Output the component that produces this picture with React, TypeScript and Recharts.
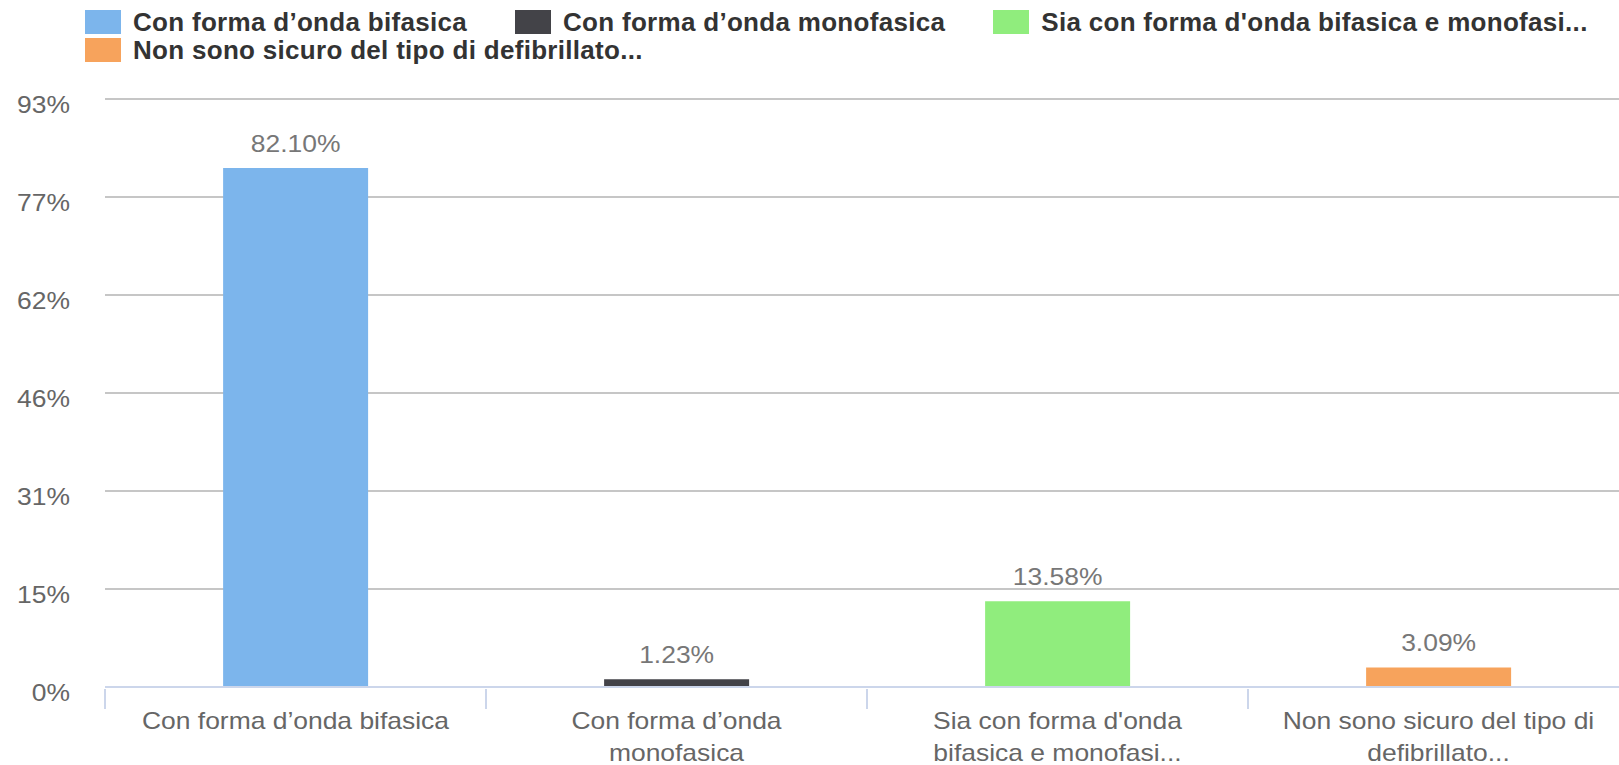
import React from "react";
import { BarChart, Bar, XAxis, YAxis, CartesianGrid, Cell, LabelList } from "recharts";

const categories = [
  "Con forma d’onda bifasica",
  "Con forma d’onda monofasica",
  "Sia con forma d'onda bifasica e monofasi...",
  "Non sono sicuro del tipo di defibrillato...",
];
const tickLines = [
  ["Con forma d’onda bifasica"],
  ["Con forma d’onda", "monofasica"],
  ["Sia con forma d'onda", "bifasica e monofasi..."],
  ["Non sono sicuro del tipo di", "defibrillato..."],
];
const values = [82.1, 1.23, 13.58, 3.09];
const colors = ["#7cb5ec", "#434348", "#90ed7d", "#f7a35c"];
const yTicks = [0, 15.5, 31, 46.5, 62, 77.5, 93];

const FONT = '"Liberation Sans", Arial, sans-serif';
const SX = 1.15;
const CHART_W = 1640;
const CHART_H = 765;
const MARGIN = { top: 99, right: 11, bottom: 0, left: 0 };
const Y_W = 105;
const BAND = (CHART_W - Y_W - MARGIN.right) / categories.length;

const data = categories.map((name, i) => ({ name, value: values[i] }));

function XTick(props: any) {
  const { x, y, payload, index } = props;
  const lines = tickLines[index] ?? [payload.value];
  return (
    <g>
      <line x1={x - BAND / 2} x2={x - BAND / 2} y1={y} y2={y + 20} stroke="#ccd6eb" strokeWidth={2} />
      {lines.map((l: string, i: number) => (
        <text
          key={i}
          transform={`translate(${x},${y + 40 + i * 32}) scale(${SX},1)`}
          textAnchor="middle"
          fontFamily={FONT}
          fontSize={23}
          fill="#666666"
        >
          {l}
        </text>
      ))}
    </g>
  );
}

function YTick(props: any) {
  const { x, y, payload } = props;
  return (
    <text
      transform={`translate(${x},${y + 14}) scale(${SX},1)`}
      textAnchor="end"
      fontFamily={FONT}
      fontSize={23}
      fill="#666666"
    >
      {Math.floor(payload.value)}%
    </text>
  );
}

function ValueLabel(props: any) {
  const { x, y, width, value } = props;
  return (
    <text
      transform={`translate(${Number(x) + Number(width) / 2},${Number(y) - 16}) scale(${SX},1)`}
      textAnchor="middle"
      fontFamily={FONT}
      fontSize={23}
      fill="#777777"
    >
      {Number(value).toFixed(2)}%
    </text>
  );
}

function LegendBox() {
  return (
    <div
      style={{
        position: "absolute",
        left: 85,
        top: 8,
        width: 1600,
        display: "flex",
        flexWrap: "wrap",
        fontFamily: FONT,
        fontWeight: "bold",
        fontSize: 26,
        letterSpacing: 0.3,
        color: "#333333",
        lineHeight: "28px",
      }}
    >
      {categories.map((c, i) => (
        <div key={i} style={{ display: "flex", alignItems: "center", height: 28, marginRight: 48 }}>
          <span style={{ display: "inline-block", width: 36, height: 24, background: colors[i], marginRight: 12 }} />
          <span style={{ whiteSpace: "nowrap" }}>{c}</span>
        </div>
      ))}
    </div>
  );
}

export default function App() {
  return (
    <div
      style={{
        position: "absolute",
        left: 0,
        top: 0,
        width: 1619,
        height: 765,
        overflow: "hidden",
        background: "#ffffff",
      }}
    >
      <LegendBox />
      <BarChart width={CHART_W} height={CHART_H} data={data} margin={MARGIN} barCategoryGap="31%">
        <CartesianGrid vertical={false} stroke="#c6c6c6" strokeWidth={2} />
        <XAxis
          dataKey="name"
          height={CHART_H - 687}
          axisLine={{ stroke: "#ccd6eb", strokeWidth: 2 }}
          tickLine={false}
          tickSize={0}
          tick={<XTick />}
          interval={0}
        />
        <YAxis
          width={Y_W}
          domain={[0, 93]}
          ticks={yTicks}
          axisLine={false}
          tickLine={false}
          tickSize={0}
          tickMargin={35}
          tick={<YTick />}
        />
        <Bar dataKey="value" isAnimationActive={false}>
          {data.map((_, i) => (
            <Cell key={i} fill={colors[i]} />
          ))}
          <LabelList dataKey="value" content={<ValueLabel />} />
        </Bar>
      </BarChart>
    </div>
  );
}
